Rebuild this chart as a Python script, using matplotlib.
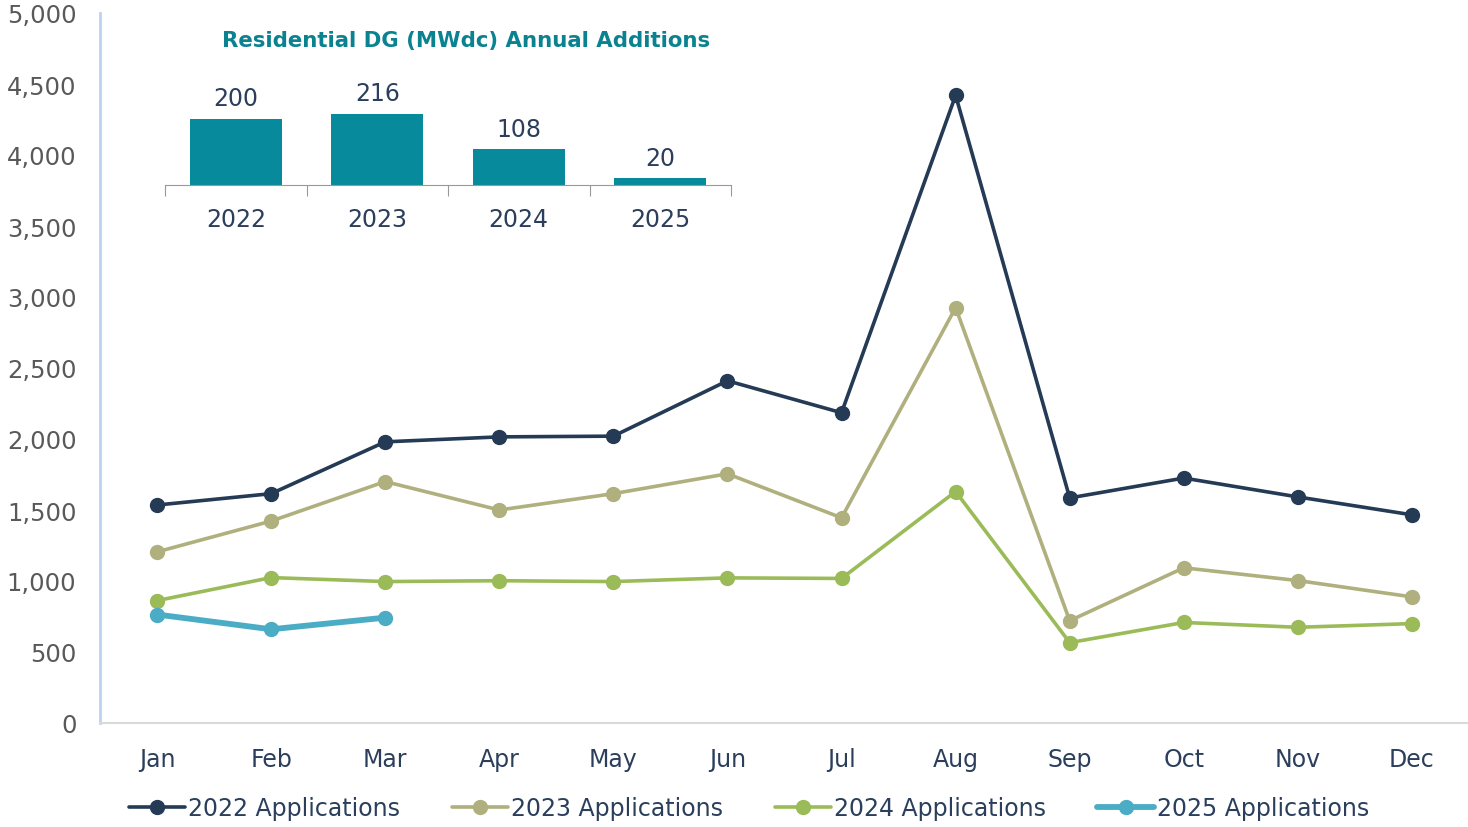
import matplotlib

matplotlib.use("Agg")
import matplotlib.pyplot as plt

months = ["Jan", "Feb", "Mar", "Apr", "May", "Jun", "Jul", "Aug", "Sep", "Oct", "Nov", "Dec"]
apps_2022 = [1535, 1615, 1980, 2015, 2020, 2410, 2185, 4420, 1585, 1725, 1592, 1466]
apps_2023 = [1205, 1422, 1700, 1500, 1615, 1755, 1445, 2925, 720, 1093, 1003, 888]
apps_2024 = [862, 1024, 996, 1002, 996, 1022, 1018, 1630, 566, 708, 674, 700]
apps_2025 = [764, 660, 742]

years = ["2022", "2023", "2024", "2025"]
annual_mwdc = [200, 216, 108, 20]

NAVY, KHAKI, GREEN, TEAL = "#243a55", "#b0b07f", "#9bbb59", "#4bacc6"
BAR = "#078a9c"
TXT, GREY = "#2b3f5c", "#595959"

plt.rcParams["font.family"] = ["DejaVu Sans"]

fig = plt.figure(figsize=(14.68, 8.28), dpi=100)
ax = fig.add_axes([100 / 1468, 1 - 724 / 828, 1369 / 1468, 710 / 828])

series = [
    (apps_2022, NAVY, 2.6, "2022 Applications"),
    (apps_2023, KHAKI, 2.6, "2023 Applications"),
    (apps_2024, GREEN, 2.6, "2024 Applications"),
    (apps_2025, TEAL, 4.2, "2025 Applications"),
]
for vals, col, lw, lab in series:
    ax.plot(range(len(vals)), vals, color=col, lw=lw, marker="o", ms=10, label=lab,
            solid_capstyle="round")

ax.set_xlim(-0.5, 11.5)
ax.set_ylim(0, 5000)
ax.set_xticks(range(12))
ax.set_xticklabels(months)
ax.set_yticks(range(0, 5001, 500))
ax.set_yticklabels([f"{v:,}" for v in range(0, 5001, 500)])
ax.tick_params(axis="x", length=0, pad=17, labelsize=17, labelcolor=TXT)
ax.tick_params(axis="y", length=0, pad=17, labelsize=17.5, labelcolor=GREY)
for s in ["top", "right"]:
    ax.spines[s].set_visible(False)
ax.spines["left"].set_color("#bcd2ee")
ax.spines["left"].set_linewidth(2)
ax.spines["bottom"].set_color("#d9d9d9")
ax.spines["bottom"].set_linewidth(1.5)

leg = fig.legend(loc="center", bbox_to_anchor=(0.51, 1 - 809 / 828), ncol=4, frameon=False,
                 fontsize=17, handlelength=2.4, handletextpad=0.1, columnspacing=2.2)
for t in leg.get_texts():
    t.set_color(TXT)

# inset: annual additions
ins = fig.add_axes([165 / 1468, 1 - 186 / 828, 566 / 1468, 92 / 828])
bars = ins.bar(range(len(years)), annual_mwdc, width=0.65, color=BAR)
for b, v in zip(bars, annual_mwdc):
    ins.text(b.get_x() + b.get_width() / 2, v + 26, str(v), ha="center", va="bottom",
             fontsize=17, color=TXT)
ins.set_xlim(-0.5, 3.5)
ins.set_ylim(0, 279)
ins.set_xticks([-0.5, 0.5, 1.5, 2.5, 3.5], minor=False)
ins.set_xticklabels([])
ins.set_xticks(range(4), minor=True)
ins.set_xticklabels(years, minor=True)
ins.tick_params(axis="x", which="major", length=8, color="#999999", direction="out")
ins.tick_params(axis="x", which="minor", length=0, pad=16, labelsize=17, labelcolor=TXT)
ins.set_yticks([])
for s in ["top", "right", "left"]:
    ins.spines[s].set_visible(False)
ins.spines["bottom"].set_color("#999999")
ins.patch.set_alpha(0)
fig.text(466 / 1468, 1 - 41 / 828, "Residential DG (MWdc) Annual Additions", ha="center",
         va="center", fontsize=15.3, fontweight="bold", color="#0a8290")

fig.savefig("out.png", dpi=100)
